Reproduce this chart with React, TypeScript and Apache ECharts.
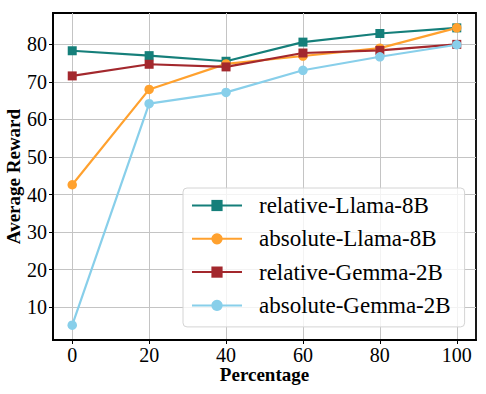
import React, { useEffect, useRef } from "react";
import * as echarts from "echarts";

const percentages = [0, 20, 40, 60, 80, 100];
const relativeLlama8B = [78.3, 77.0, 75.5, 80.6, 82.9, 84.4];
const absoluteLlama8B = [42.6, 68.0, 74.8, 76.9, 79.0, 84.4];
const relativeGemma2B = [71.6, 74.7, 74.0, 77.7, 78.4, 80.0];
const absoluteGemma2B = [5.2, 64.2, 67.2, 73.1, 76.7, 79.9];
const xTicks = [0, 20, 40, 60, 80, 100];
const yTicks = [10, 20, 30, 40, 50, 60, 70, 80];

const seriesDefs = [
  { name: "relative-Llama-8B", data: relativeLlama8B, color: "#157f7a", symbol: "rect" },
  { name: "absolute-Llama-8B", data: absoluteLlama8B, color: "#ffa12e", symbol: "circle" },
  { name: "relative-Gemma-2B", data: relativeGemma2B, color: "#a3282d", symbol: "rect" },
  { name: "absolute-Gemma-2B", data: absoluteGemma2B, color: "#88cfea", symbol: "circle" },
];

const FONT = "'Liberation Serif', 'Times New Roman', serif";

export default function App() {
  const ref = useRef<HTMLDivElement>(null);
  useEffect(() => {
    document.body.style.margin = "0";
    if (!ref.current) return;
    const chart = echarts.init(ref.current, undefined, { renderer: "svg" });
    chart.setOption({
      animation: false,
      textStyle: { fontFamily: FONT },
      grid: {
        left: 53,
        top: 13,
        right: 10,
        bottom: 54,
        containLabel: false,
        outerBoundsMode: "none",
        show: true,
        borderColor: "#000",
        borderWidth: 1.8,
        backgroundColor: "transparent",
      },
      xAxis: {
        type: "value",
        min: -5,
        max: 105,
        name: "Percentage",
        nameLocation: "middle",
        nameGap: 25,
        nameMoveOverlap: false,
        nameTextStyle: { fontFamily: FONT, fontSize: 19, fontWeight: "bold", color: "#000" },
        axisLine: { show: true, onZero: false, lineStyle: { color: "#000", width: 1.8 } },
        axisTick: { show: true, length: 4, lineStyle: { color: "#000" }, customValues: xTicks },
        axisLabel: { customValues: xTicks, fontFamily: FONT, fontSize: 20, color: "#000", margin: 5 },
        splitLine: { show: true, lineStyle: { color: "#c4c4c4", width: 1 } },
      },
      yAxis: {
        type: "value",
        min: 1.24,
        max: 88.36,
        name: "Average Reward",
        nameLocation: "middle",
        nameGap: 30,
        nameMoveOverlap: false,
        nameTextStyle: { fontFamily: FONT, fontSize: 19, fontWeight: "bold", color: "#000" },
        axisLine: { show: true, onZero: false, lineStyle: { color: "#000", width: 1.8 } },
        axisTick: { show: true, length: 4, lineStyle: { color: "#000" }, customValues: yTicks },
        axisLabel: { customValues: yTicks, fontFamily: FONT, fontSize: 20, color: "#000", margin: 6 },
        splitLine: { show: true, lineStyle: { color: "#c4c4c4", width: 1 } },
      },
      legend: {
        orient: "vertical",
        left: 183,
        top: 188,
        padding: [6, 14, 10, 8],
        itemWidth: 50,
        itemHeight: 14,
        itemGap: 10.3,
        backgroundColor: "rgba(255,255,255,0.8)",
        borderColor: "#d4d4d4",
        borderWidth: 1,
        borderRadius: 4,
        textStyle: {
          fontFamily: FONT,
          fontSize: 23,
          lineHeight: 23,
          color: "#000",
          padding: [0, 0, 0, 12],
        },
        data: seriesDefs.map((s) => s.name),
      },
      series: seriesDefs.map((s) => ({
        name: s.name,
        type: "line",
        data: percentages.map((p, i) => [p, s.data[i]]),
        symbol: s.symbol,
        symbolSize: s.symbol === "rect" ? 9 : 9.5,
        showSymbol: true,
        lineStyle: { color: s.color, width: 2.2 },
        itemStyle: { color: s.color, borderWidth: 0 },
        emphasis: { disabled: true },
      })),
    });
    return () => chart.dispose();
  }, []);
  return <div ref={ref} style={{ width: 486, height: 394 }} />;
}
